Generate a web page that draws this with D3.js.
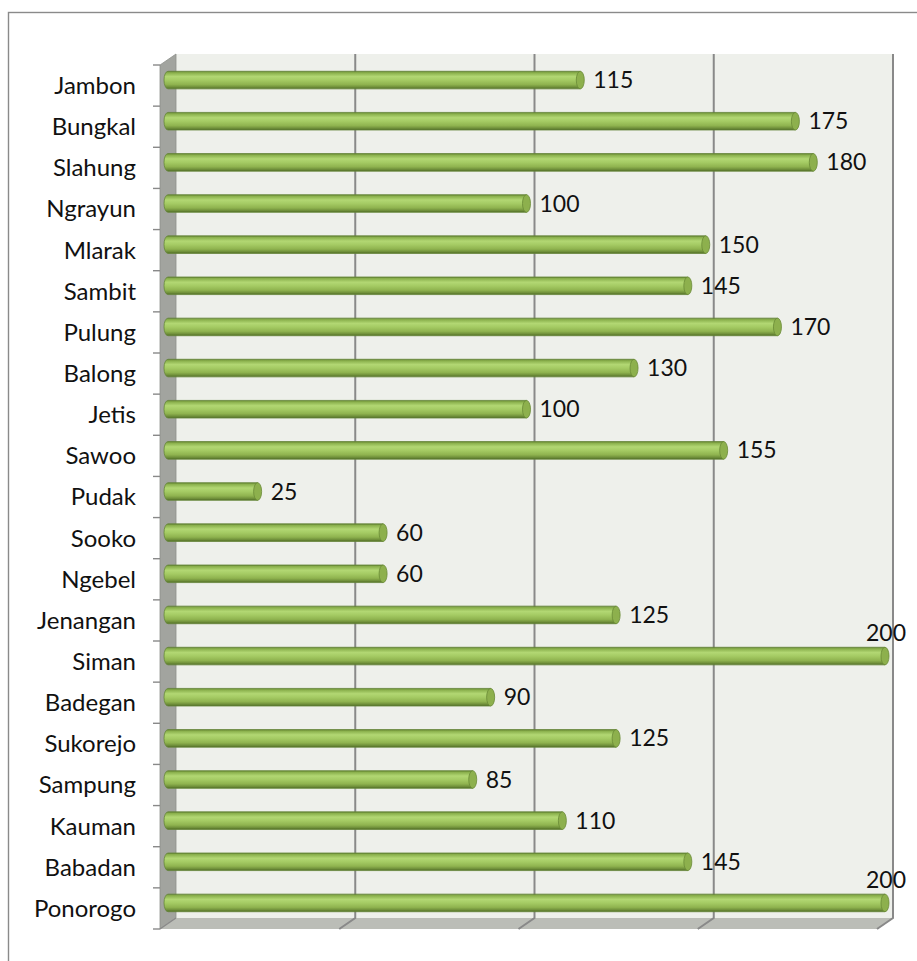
<!DOCTYPE html>
<html>
<head>
<meta charset="utf-8">
<script src="https://cdn.jsdelivr.net/npm/d3@7.9.0/dist/d3.min.js"></script>
<style>
  body { margin: 0; background: #fff; }
  svg { display: block; }
  text { font-family: Lato, "Open Sans", sans-serif; }
</style>
</head>
<body>
<div id="chart"></div>
<script>
// ---------- DATA ----------
const categories = [
  "Jambon", "Bungkal", "Slahung", "Ngrayun", "Mlarak", "Sambit", "Pulung",
  "Balong", "Jetis", "Sawoo", "Pudak", "Sooko", "Ngebel", "Jenangan",
  "Siman", "Badegan", "Sukorejo", "Sampung", "Kauman", "Babadan", "Ponorogo"
];
const values = [
  115, 175, 180, 100, 150, 145, 170,
  130, 100, 155, 25, 60, 60, 125,
  200, 90, 125, 85, 110, 145, 200
];
const gridTicks = [0, 50, 100, 150, 200];

// ---------- LAYOUT ----------
const width = 917, height = 961;
const front = { left: 160, right: 877, top: 65, bottom: 929 };
const depth = { dx: 16, dy: -11 };   // back wall offset

const svg = d3.select("#chart").append("svg")
  .attr("width", width)
  .attr("height", height);

// outer chart border (cropped at right / bottom)
svg.append("rect")
  .attr("x", 8.5).attr("y", 12.5)
  .attr("width", 1000).attr("height", 1000)
  .attr("fill", "none")
  .attr("stroke", "#8a8a8a")
  .attr("stroke-width", 1.4);

const x = d3.scaleLinear().domain([0, 200]).range([front.left, front.right]);
const y = d3.scaleBand().domain(categories).range([front.top, front.bottom]);

// gradient for the cylinders
const defs = svg.append("defs");
const grad = defs.append("linearGradient")
  .attr("id", "cyl").attr("x1", 0).attr("y1", 0).attr("x2", 0).attr("y2", 1);
[
  [0, "#5d7c2e"], [0.08, "#88ae4a"], [0.3, "#b2d773"], [0.5, "#a5cb64"],
  [0.75, "#8fb34f"], [0.9, "#6f8f3a"], [1, "#4f6b25"]
].forEach(([o, c]) => grad.append("stop").attr("offset", o).attr("stop-color", c));

// ---------- WALLS ----------
const bx = v => x(v) + depth.dx;
const topB = front.top + depth.dy, botB = front.bottom + depth.dy;

// back wall
svg.append("rect")
  .attr("x", bx(0)).attr("y", topB)
  .attr("width", bx(200) - bx(0)).attr("height", botB - topB)
  .attr("fill", "#eef0eb");

// side wall
svg.append("path")
  .attr("d", `M${x(0)},${front.top} L${bx(0)},${topB} L${bx(0)},${botB} L${x(0)},${front.bottom} Z`)
  .attr("fill", "#a2a49f")
  .attr("stroke", "#8e908b")
  .attr("stroke-width", 0.8);

// floor
svg.append("path")
  .attr("d", `M${x(0)},${front.bottom} L${bx(0)},${botB} L${bx(200)},${botB} L${x(200)},${front.bottom} Z`)
  .attr("fill", "#bbbdb7");

// gridlines on back wall + floor
const grid = svg.append("g").attr("stroke", "#898989").attr("stroke-width", 2).attr("fill", "none");
gridTicks.filter(t => t > 0).forEach(t => {
  grid.append("path")
    .attr("d", `M${bx(t)},${topB} L${bx(t)},${botB} L${x(t)},${front.bottom}`);
});
grid.append("path")
  .attr("d", `M${bx(0)},${botB} L${x(0)},${front.bottom}`)
  .attr("stroke-width", 1.2);

// category tick marks on the left
const bounds = categories.map(c => y(c)).concat([front.bottom]);
svg.append("g").selectAll("line")
  .data(bounds)
  .join("line")
  .attr("x1", 153).attr("x2", x(0))
  .attr("y1", d => d).attr("y2", d => d)
  .attr("stroke", "#898989")
  .attr("stroke-width", 1.4);

// category labels
svg.append("g").selectAll("text")
  .data(categories)
  .join("text")
  .attr("x", 136)
  .attr("y", d => y(d) + y.bandwidth() / 2)
  .attr("dy", "0.35em")
  .attr("text-anchor", "end")
  .attr("font-size", 24)
  .attr("fill", "#111")
  .text(d => d);

// ---------- BARS ----------
const barH = 17.6, rx = 4;
const mid = v => x(v) + depth.dx / 2;
const cy = c => y(c) + y.bandwidth() / 2 + depth.dy / 2;

const bars = svg.append("g").selectAll("g")
  .data(categories.map((c, i) => ({ c, v: values[i] })))
  .join("g");

bars.append("path")
  .attr("d", d => {
    const x0 = mid(0), x1 = mid(d.v), t = cy(d.c) - barH / 2, b = cy(d.c) + barH / 2;
    return `M${x0},${t} L${x1},${t} L${x1},${b} L${x0},${b} A${rx},${barH / 2} 0 0 1 ${x0},${t} Z`;
  })
  .attr("fill", "url(#cyl)")
  .attr("stroke", "#66863a")
  .attr("stroke-width", 0.8);

bars.append("ellipse")
  .attr("cx", d => mid(d.v))
  .attr("cy", d => cy(d.c))
  .attr("rx", rx)
  .attr("ry", barH / 2)
  .attr("fill", "#8db04d")
  .attr("stroke", "#6a8a36")
  .attr("stroke-width", 0.8);

// value labels (labels that would run past the wall sit above the bar end)
bars.append("text")
  .attr("x", d => d.v >= 200 ? mid(d.v) + 1 : mid(d.v) + 13)
  .attr("y", d => d.v >= 200 ? cy(d.c) - 23 : cy(d.c))
  .attr("dy", "0.35em")
  .attr("text-anchor", d => d.v >= 200 ? "middle" : "start")
  .attr("font-size", 23)
  .attr("fill", "#111")
  .text(d => d.v);
</script>
</body>
</html>
